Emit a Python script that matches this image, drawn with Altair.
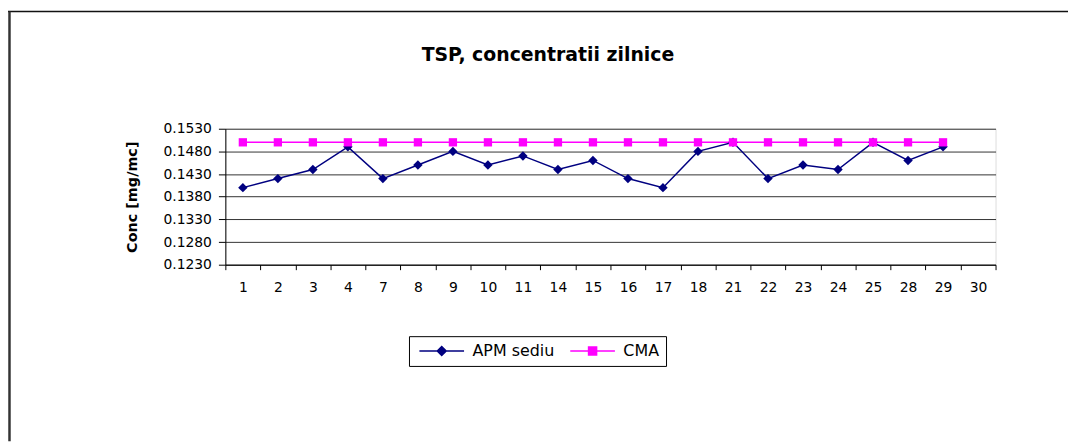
import altair as alt
import pandas as pd

# ---- data ----
days = ["1", "2", "3", "4", "7", "8", "9", "10", "11", "14", "15",
        "16", "17", "18", "21", "22", "23", "24", "25", "28", "29", "30"]
apm_days = ["1", "2", "3", "4", "7", "8", "9", "10", "11", "14", "15",
            "16", "17", "18", "21", "22", "23", "24", "25", "28", "29"]
apm_values = [0.140, 0.142, 0.144, 0.149, 0.142, 0.145, 0.148, 0.145, 0.147, 0.144, 0.146,
              0.142, 0.140, 0.148, 0.150, 0.142, 0.145, 0.144, 0.150, 0.146, 0.149]
cma_values = [0.150, 0.150, 0.150, 0.150, 0.150, 0.150, 0.150, 0.150, 0.150, 0.150, 0.150,
              0.150, 0.150, 0.150, 0.150, 0.150, 0.150, 0.150, 0.150, 0.150, 0.150]
series_names = ["APM sediu", "CMA"]
series_colors = ["#000080", "#FF00FF"]
y_ticks = [0.123, 0.128, 0.133, 0.138, 0.143, 0.148, 0.153]
title_text = "TSP, concentratii zilnice"
y_title = "Conc [mg/mc]"

df = pd.concat([
    pd.DataFrame({"day": apm_days, "value": apm_values, "series": series_names[0]}),
    pd.DataFrame({"day": apm_days, "value": cma_values, "series": series_names[1]}),
], ignore_index=True)

FONT = "DejaVu Sans"
W, H = 776, 137
PAD_L, PAD_T = 219, 120
TOTAL_W, TOTAL_H = 1068, 435

x_enc = alt.X(
    "day:N",
    sort=days,
    scale=alt.Scale(type="band", domain=days, paddingInner=0, paddingOuter=0),
    axis=alt.Axis(
        title=None, tickBand="extent", labelAngle=0, labelFont=FONT, labelFontSize=14,
        labelColor="black", domainColor="black", tickColor="black", tickSize=5,
        labelPadding=11, grid=False,
    ),
)
y_enc = alt.Y(
    "value:Q",
    scale=alt.Scale(domain=[0.123, 0.153], nice=False, zero=False),
    axis=alt.Axis(
        values=y_ticks, format=".4f", title=y_title, titleFont=FONT, titleFontSize=14.5,
        titleFontWeight="bold", titleColor="black", titlePadding=24,
        labelFont=FONT, labelFontSize=14, labelColor="black", labelPadding=7,
        domainColor="black", tickColor="black", tickSize=7,
        grid=True, gridColor="#333333", gridWidth=1,
    ),
)

# one shared legend: line segment with a marker in the middle
legend_shapes = ["M-1,0H9M3,0L4,-1L5,0L4,1Z", "M-1,0H9M3.1,-0.9H4.9V0.9H3.1Z"]
leg = alt.Legend(
    title=None, orient="none", legendX=185, legendY=209, direction="horizontal",
    columnPadding=12, padding=7, strokeColor="black", fillColor="white", cornerRadius=0,
    symbolSize=81, symbolStrokeWidth=1.5, symbolOpacity=1, labelFont=FONT, labelFontSize=16,
    labelColor="black", labelOffset=41, labelLimit=300,
)
stroke_enc = alt.Stroke("series:N", scale=alt.Scale(domain=series_names, range=series_colors), legend=leg)

base = alt.Chart(df)

lines = base.mark_line(strokeWidth=1.5).encode(x=x_enc, y=y_enc, stroke=stroke_enc, detail="series:N")

apm_pts = base.transform_filter(alt.datum.series == series_names[0]).mark_point(
    shape="diamond", filled=True, size=90, opacity=1, color=series_colors[0]
).encode(x=x_enc, y=y_enc)

cma_pts = base.transform_filter(alt.datum.series == series_names[1]).mark_point(
    shape="square", filled=True, size=70, opacity=1, color=series_colors[1]
).encode(x=x_enc, y=y_enc)

# invisible layer that only feeds the legend symbols (fill + custom shape)
legend_layer = base.mark_point(filled=True, opacity=0, size=81).encode(
    x=x_enc, y=y_enc,
    fill=alt.Fill("series:N", scale=alt.Scale(domain=series_names, range=series_colors), legend=leg),
    stroke=stroke_enc,
    shape=alt.Shape("series:N", scale=alt.Scale(domain=series_names, range=legend_shapes), legend=leg),
)

# outer chart frame (decoration)
frame_df = pd.DataFrame({"frame": [0]})
frame_top = alt.Chart(frame_df).mark_rule(color="#111111", strokeWidth=1.5).encode(
    x=alt.value(-PAD_L), x2=alt.value(TOTAL_W - PAD_L), y=alt.value(-118)
)
frame_left = alt.Chart(frame_df).mark_rule(color="#333333", strokeWidth=2.5).encode(
    x=alt.value(-PAD_L + 1.5), y=alt.value(-118), y2=alt.value(TOTAL_H - PAD_T)
)

chart = alt.layer(frame_top, frame_left, lines, apm_pts, cma_pts, legend_layer).properties(
    width=W, height=H,
    title=alt.TitleParams(
        text=title_text, font=FONT, fontSize=19, fontWeight="bold", color="black",
        anchor="middle", dx=-63, offset=0, baseline="alphabetic", dy=70,
    ),
    autosize=alt.AutoSizeParams(type="none"),
    padding={"left": PAD_L, "top": PAD_T, "right": TOTAL_W - PAD_L - W, "bottom": TOTAL_H - PAD_T - H},
).configure_view(stroke="#808080", strokeWidth=1).configure(background="white")

chart.save("out.html", embed_options={"renderer": "svg", "actions": False})
